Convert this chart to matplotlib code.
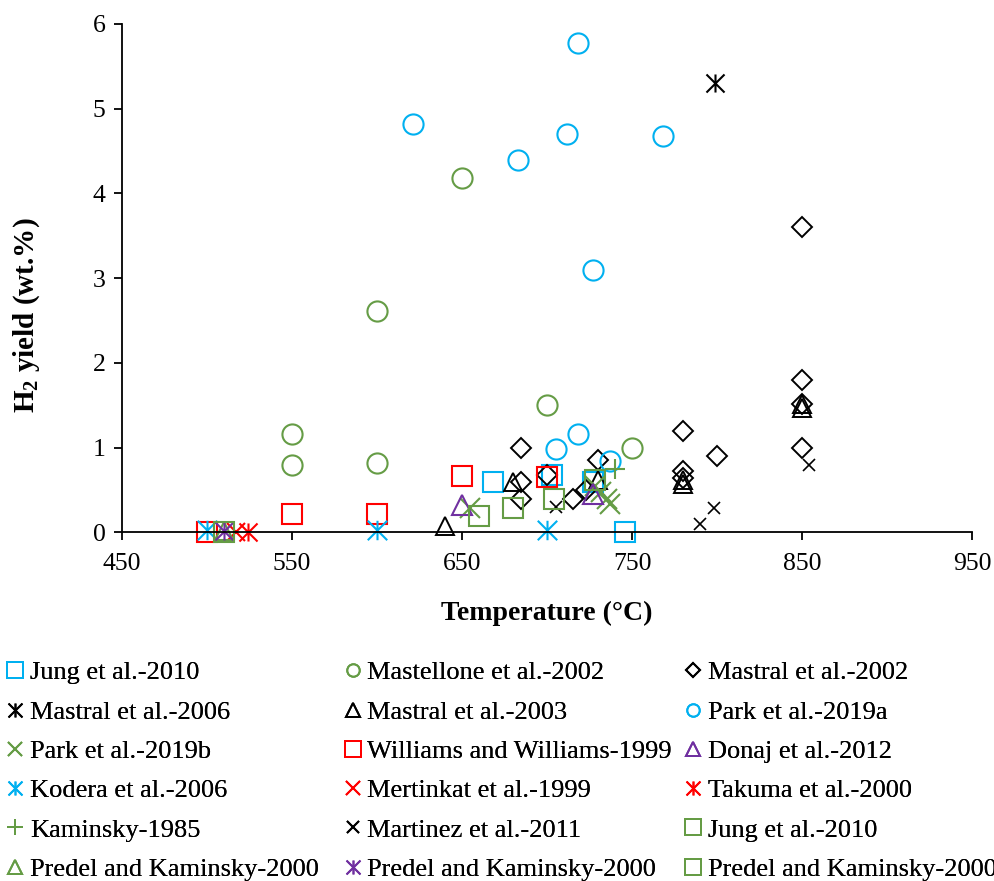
import matplotlib
matplotlib.use('Agg')
import matplotlib.pyplot as plt
from matplotlib.path import Path

plt.rcParams['font.family'] = ['Liberation Serif', 'DejaVu Serif']
plt.rcParams['mathtext.fontset'] = 'custom'
plt.rcParams['mathtext.rm'] = 'Liberation Serif'
plt.rcParams['mathtext.bf'] = 'Liberation Serif:bold'

# --- data (temperature in degC, H2 yield in wt.%) ---
jung_blue_t = [668, 703, 727, 746]
jung_blue_y = [0.59, 0.68, 0.60, 0.0]
mastellone_t = [550, 550, 600, 600, 650, 700, 750]
mastellone_y = [1.16, 0.79, 0.825, 2.61, 4.18, 1.50, 1.00]
mastral02_t = [685, 685, 685, 700, 715, 723, 730, 780, 780, 780, 800, 850, 850, 850, 850]
mastral02_y = [1.00, 0.60, 0.40, 0.68, 0.40, 0.50, 0.85, 1.20, 0.72, 0.64, 0.90, 3.60, 1.80, 1.52, 1.00]
mastral06_t = [799]
mastral06_y = [5.30]
mastral03_t = [640, 680, 730, 780, 780, 850, 850]
mastral03_y = [0.08, 0.60, 0.62, 0.62, 0.57, 1.52, 1.47]
park_a_t = [621, 683, 712, 718, 727, 768, 705, 718, 737]
park_a_y = [4.82, 4.39, 4.70, 5.77, 3.10, 4.68, 0.98, 1.16, 0.84]
park_b_t = [655, 728, 732, 735, 737]
park_b_y = [0.29, 0.55, 0.48, 0.40, 0.33]
williams_t = [500, 550, 600, 650, 700]
williams_y = [0.0, 0.22, 0.22, 0.67, 0.65]
donaj_t = [650, 727]
donaj_y = [0.32, 0.45]
kodera_t = [500, 600, 700]
kodera_y = [0.03, 0.03, 0.03]
mertinkat_t = [517]
mertinkat_y = [0.01]
takuma_t = [524]
takuma_y = [0.01]
kaminsky_t = [740]
kaminsky_y = [0.75]
martinez_t = [705, 790, 798, 854]
martinez_y = [0.30, 0.10, 0.29, 0.80]
jung_green_t = [660, 680, 704, 728]
jung_green_y = [0.19, 0.29, 0.40, 0.62]
predel_tri_t = [510]
predel_tri_y = [0.02]
predel_ast_t = [510]
predel_ast_y = [0.02]
predel_sq_t = [510]
predel_sq_y = [0.01]

BLUE = '#00B0F0'
GREEN = '#659C45'
RED = '#FF0000'
PURPLE = '#7030A0'
BLACK = '#000000'

# excel style "star": an x with a vertical bar
STAR = Path([(-1, -1), (1, 1), (-1, 1), (1, -1), (0, -1), (0, 1)],
            [Path.MOVETO, Path.LINETO, Path.MOVETO, Path.LINETO, Path.MOVETO, Path.LINETO])

# label, x, y, marker, colour, size(pt), edge width, legend size(pt)
series = [
    ('Jung et al.-2010', jung_blue_t, jung_blue_y, 's', BLUE, 14, 1.5, 11),
    ('Mastellone et al.-2002', mastellone_t, mastellone_y, 'o', GREEN, 14.5, 1.5, 9),
    ('Mastral et al.-2002', mastral02_t, mastral02_y, 'D', BLACK, 10, 1.4, 7),
    ('Mastral et al.-2006', mastral06_t, mastral06_y, STAR, BLACK, 13, 1.5, 10),
    ('Mastral et al.-2003', mastral03_t, mastral03_y, '^', BLACK, 13, 1.4, 10),
    ('Park et al.-2019a', park_a_t, park_a_y, 'o', BLUE, 14.5, 1.5, 9),
    ('Park et al.-2019b', park_b_t, park_b_y, 'x', GREEN, 14, 1.5, 10),
    ('Williams and Williams-1999', williams_t, williams_y, 's', RED, 14, 1.5, 11),
    ('Donaj et al.-2012', donaj_t, donaj_y, '^', PURPLE, 14, 1.5, 10),
    ('Kodera et al.-2006', kodera_t, kodera_y, STAR, BLUE, 14, 1.5, 10),
    ('Mertinkat et al.-1999', mertinkat_t, mertinkat_y, 'x', RED, 13, 1.5, 10),
    ('Takuma et al.-2000', takuma_t, takuma_y, STAR, RED, 13, 1.5, 10),
    ('Kaminsky-1985', kaminsky_t, kaminsky_y, '+', GREEN, 14, 1.5, 11),
    ('Martinez et al.-2011', martinez_t, martinez_y, 'x', BLACK, 8.5, 1.2, 8),
    ('Jung et al.-2010', jung_green_t, jung_green_y, 's', GREEN, 14, 1.5, 11),
    ('Predel and Kaminsky-2000', predel_tri_t, predel_tri_y, '^', GREEN, 13, 1.5, 10),
    ('Predel and Kaminsky-2000', predel_ast_t, predel_ast_y, STAR, PURPLE, 13, 1.5, 10),
    ('Predel and Kaminsky-2000', predel_sq_t, predel_sq_y, 's', GREEN, 14, 1.5, 11),
]

fig = plt.figure(figsize=(9.95, 8.81), dpi=100)
ax = fig.add_axes([0.1223, 0.3956, 0.8549, 0.5774])

handles = []
for lab, xs, ys, mk, col, ms, mew, lms in series:
    h, = ax.plot(xs, ys, ls='none', marker=mk, ms=ms, mfc='none', mec=col,
                 mew=mew, label=lab, clip_on=False)
    handles.append(h)

ax.set_xlim(450, 950)
ax.set_ylim(0, 6)
ax.set_xticks(range(450, 951, 100))
ax.set_yticks(range(0, 7))
for s in ['top', 'right']:
    ax.spines[s].set_visible(False)
for s in ['left', 'bottom']:
    ax.spines[s].set_linewidth(1.3)
ax.tick_params(direction='out', length=5.5, width=1.3, labelsize=18.5)
ax.tick_params(axis='x', pad=9)
ax.tick_params(axis='y', pad=6)

ax.set_xlabel('Temperature (°C)', fontsize=20, fontweight='bold', labelpad=19)
ax.set_ylabel(r'$\mathbf{H_2}$ yield (wt.%)', fontsize=21, fontweight='bold')
ax.yaxis.set_label_coords(-0.094, 0.428)

# legend: three columns, filled row by row
col_x = [0.006, 0.345, 0.6875]
for c in range(3):
    idx = list(range(c, len(series), 3))
    hs = [handles[i] for i in idx]
    leg = fig.legend(handles=hs, labels=[h.get_label() for h in hs],
                     loc='upper left', bbox_to_anchor=(col_x[c], 0.2497),
                     frameon=False, fontsize=19,
                     handlelength=0.7, handletextpad=0.2, labelspacing=0.6,
                     borderpad=0, borderaxespad=0, numpoints=1)
    for lh, i in zip(leg.legend_handles, idx):
        lh.set_markersize(series[i][7])
        lh.set_markeredgewidth(1.4)
    fig.add_artist(leg)

fig.savefig('out.png', dpi=100)
